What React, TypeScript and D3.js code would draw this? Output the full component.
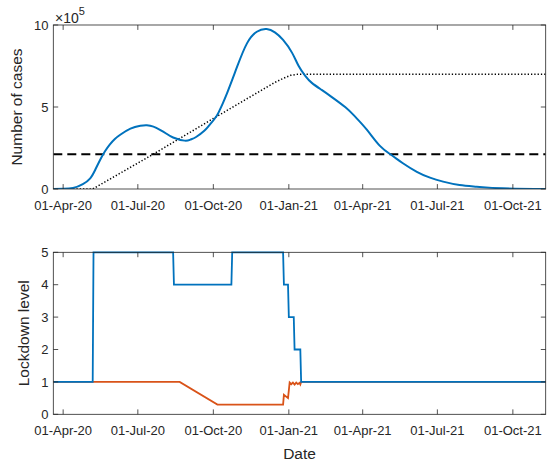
import React from 'react';
import * as d3 from 'd3';

// ---------- data ----------
const caseDates = [
  '2020-03-20', '2020-04-01', '2020-04-13', '2020-04-25', '2020-05-04', '2020-05-10',
  '2020-05-16', '2020-05-22', '2020-05-28', '2020-06-03', '2020-06-10', '2020-06-22',
  '2020-07-04', '2020-07-12', '2020-07-20', '2020-07-28', '2020-08-04', '2020-08-13',
  '2020-08-27', '2020-09-03', '2020-09-10', '2020-09-20', '2020-09-26', '2020-10-05',
  '2020-10-11', '2020-10-18', '2020-10-30', '2020-11-11', '2020-11-23', '2020-12-05',
  '2020-12-15', '2020-12-25', '2021-01-05', '2021-01-13', '2021-01-21', '2021-01-29',
  '2021-02-10', '2021-02-22', '2021-03-11', '2021-03-23', '2021-04-06', '2021-04-22',
  '2021-05-06', '2021-05-20', '2021-06-06', '2021-06-22', '2021-07-08', '2021-07-28',
  '2021-08-18', '2021-09-19', '2021-11-10',
];
// number of cases, in units of 10^5
const caseValues = [
  0, 0.01, 0.06, 0.3, 0.65, 1.16,
  1.77, 2.3, 2.72, 3.05, 3.32, 3.68,
  3.85, 3.88, 3.8, 3.61, 3.4, 3.14,
  2.95, 3.01, 3.17, 3.55, 3.88, 4.45,
  5.05, 5.88, 7.46, 8.88, 9.59, 9.75,
  9.55, 9.09, 8.3, 7.5, 6.9, 6.47,
  6.04, 5.62, 4.98, 4.4, 3.62, 2.63,
  2.07, 1.57, 1.05, 0.69, 0.45, 0.24,
  0.14, 0.04, 0,
];

const capacityDates = [
  '2020-03-20', '2020-05-07', '2020-07-19', '2020-10-01', '2020-12-15',
  '2020-12-25', '2021-01-03', '2021-01-12', '2021-11-10',
];
const capacityValues = [0, 0, 2.1, 4.3, 6.5, 6.74, 6.93, 7.0, 7.0];

const thresholdValue = 2.12;

const levelDates = [
  '2020-03-20', '2020-05-07', '2020-05-08', '2020-08-13', '2020-08-14', '2020-10-23',
  '2020-10-24', '2020-12-25', '2020-12-26', '2020-12-31', '2021-01-01', '2021-01-07',
  '2021-01-08', '2021-01-15', '2021-01-16', '2021-11-10',
];
const levelValues = [1, 1, 5, 5, 4, 4, 5, 5, 4, 4, 3, 3, 2, 2, 1, 1];

const effectiveDates = [
  '2020-03-20', '2020-08-21', '2020-10-06', '2020-12-25', '2020-12-26', '2020-12-31',
  '2021-01-02', '2021-01-04', '2021-01-06', '2021-01-08', '2021-01-10', '2021-01-12',
  '2021-01-14', '2021-01-15', '2021-01-16', '2021-11-10',
];
const effectiveValues = [
  1, 1, 0.3, 0.3, 0.6, 0.5,
  0.98, 0.93, 0.98, 0.92, 0.98, 0.93,
  0.97, 0.92, 1.0, 1.0,
];

const xTickDates = [
  '2020-04-01', '2020-07-01', '2020-10-01', '2021-01-01', '2021-04-01', '2021-07-01', '2021-10-01',
];
const xTickLabels = [
  '01-Apr-20', '01-Jul-20', '01-Oct-20', '01-Jan-21', '01-Apr-21', '01-Jul-21', '01-Oct-21',
];
const topYTicks = [0, 5, 10];
const bottomYTicks = [0, 1, 2, 3, 4, 5];
const xDomain = ['2020-03-20', '2021-11-10'];

// ---------- layout ----------
const W = 547;
const H = 461;
const left = 53.3;
const right = 545.7;
const topPanel = { top: 25, bottom: 189 };
const botPanel = { top: 252.3, bottom: 414.3 };
const FONT = '"Liberation Sans", Arial, Helvetica, sans-serif';
const AX = '#262626';
const BLUE = '#0072BD';
const ORANGE = '#D95319';

const parse = d3.utcParse('%Y-%m-%d');

const x = d3.scaleUtc().domain(xDomain.map((d) => parse(d) as Date)).range([left, right]);
const yTop = d3.scaleLinear().domain([0, 10]).range([topPanel.bottom, topPanel.top]);
const yBot = d3.scaleLinear().domain([0, 5]).range([botPanel.bottom, botPanel.top]);

function pts(dates: string[], vals: number[]) {
  return dates.map((d, i) => [parse(d) as Date, vals[i]] as [Date, number]);
}

function Axes({ y, ticks, panel }: { y: d3.ScaleLinear<number, number>; ticks: number[]; panel: { top: number; bottom: number } }) {
  const tl = 4.9;
  return (
    <g>
      {xTickDates.map((d, i) => {
        const xx = x(parse(d) as Date);
        return (
          <g key={'x' + i}>
            <line x1={xx} x2={xx} y1={panel.bottom} y2={panel.bottom - tl} stroke={AX} strokeWidth={0.8} />
            <line x1={xx} x2={xx} y1={panel.top} y2={panel.top + tl} stroke={AX} strokeWidth={0.8} />
            <text x={xx} y={panel.bottom + 21} textAnchor="middle" fontSize={13} fill={AX} fontFamily={FONT}>
              {xTickLabels[i]}
            </text>
          </g>
        );
      })}
      {ticks.map((t, i) => {
        const yy = y(t);
        return (
          <g key={'y' + i}>
            <line x1={left} x2={left + tl} y1={yy} y2={yy} stroke={AX} strokeWidth={0.8} />
            <line x1={right} x2={right - tl} y1={yy} y2={yy} stroke={AX} strokeWidth={0.8} />
            <text x={48.5} y={yy + 4.6} textAnchor="end" fontSize={13} fill={AX} fontFamily={FONT}>
              {t}
            </text>
          </g>
        );
      })}
      <rect x={left} y={panel.top} width={right - left} height={panel.bottom - panel.top} fill="none" stroke={AX} strokeWidth={0.8} />
    </g>
  );
}

export default function App() {
  const casePath =
    d3
      .line<[Date, number]>()
      .x((d) => x(d[0]))
      .y((d) => yTop(d[1]))
      .curve(d3.curveNatural)(pts(caseDates, caseValues)) || '';
  const capPath =
    d3
      .line<[Date, number]>()
      .x((d) => x(d[0]))
      .y((d) => yTop(d[1]))(pts(capacityDates, capacityValues)) || '';
  const lineBot = d3
    .line<[Date, number]>()
    .x((d) => x(d[0]))
    .y((d) => yBot(d[1]));
  const levelPath = lineBot(pts(levelDates, levelValues)) || '';
  const effPath = lineBot(pts(effectiveDates, effectiveValues)) || '';

  return (
    <div style={{ position: 'absolute', left: 0, top: 0 }}>
      <svg width={W} height={H} style={{ display: 'block', background: '#fff' }}>
        <defs>
          <clipPath id="clipTop">
            <rect x={left} y={topPanel.top} width={right - left} height={topPanel.bottom - topPanel.top} />
          </clipPath>
          <clipPath id="clipBot">
            <rect x={left} y={botPanel.top - 2} width={right - left} height={botPanel.bottom - botPanel.top + 4} />
          </clipPath>
        </defs>

        {/* top panel */}
        <g clipPath="url(#clipTop)">
          <line
            x1={left}
            x2={right}
            y1={yTop(thresholdValue)}
            y2={yTop(thresholdValue)}
            stroke="#000"
            strokeWidth={2}
            strokeDasharray="9,5"
          />
          <path d={capPath} fill="none" stroke="#000" strokeWidth={1.5} strokeDasharray="1.3,2" />
          <path d={casePath} fill="none" stroke={BLUE} strokeWidth={2} />
        </g>
        <Axes y={yTop} ticks={topYTicks} panel={topPanel} />
        <text x={55} y={22.5} fontSize={14} fill={AX} fontFamily={FONT}>
          ×10
          <tspan dy={-7.5} fontSize={11}>5</tspan>
        </text>
        <text
          transform={`translate(21.5,${(topPanel.top + topPanel.bottom) / 2}) rotate(-90)`}
          textAnchor="middle"
          fontSize={15.5}
          fill={AX}
          fontFamily={FONT}
        >
          Number of cases
        </text>

        {/* bottom panel */}
        <g clipPath="url(#clipBot)">
          <path d={effPath} fill="none" stroke={ORANGE} strokeWidth={1.8} />
          <path d={levelPath} fill="none" stroke={BLUE} strokeWidth={1.8} />
        </g>
        <Axes y={yBot} ticks={bottomYTicks} panel={botPanel} />
        <text
          transform={`translate(29,${(botPanel.top + botPanel.bottom) / 2}) rotate(-90)`}
          textAnchor="middle"
          fontSize={15.5}
          fill={AX}
          fontFamily={FONT}
        >
          Lockdown level
        </text>
        <text x={(left + right) / 2} y={459} textAnchor="middle" fontSize={15.5} fill={AX} fontFamily={FONT}>
          Date
        </text>
      </svg>
    </div>
  );
}
